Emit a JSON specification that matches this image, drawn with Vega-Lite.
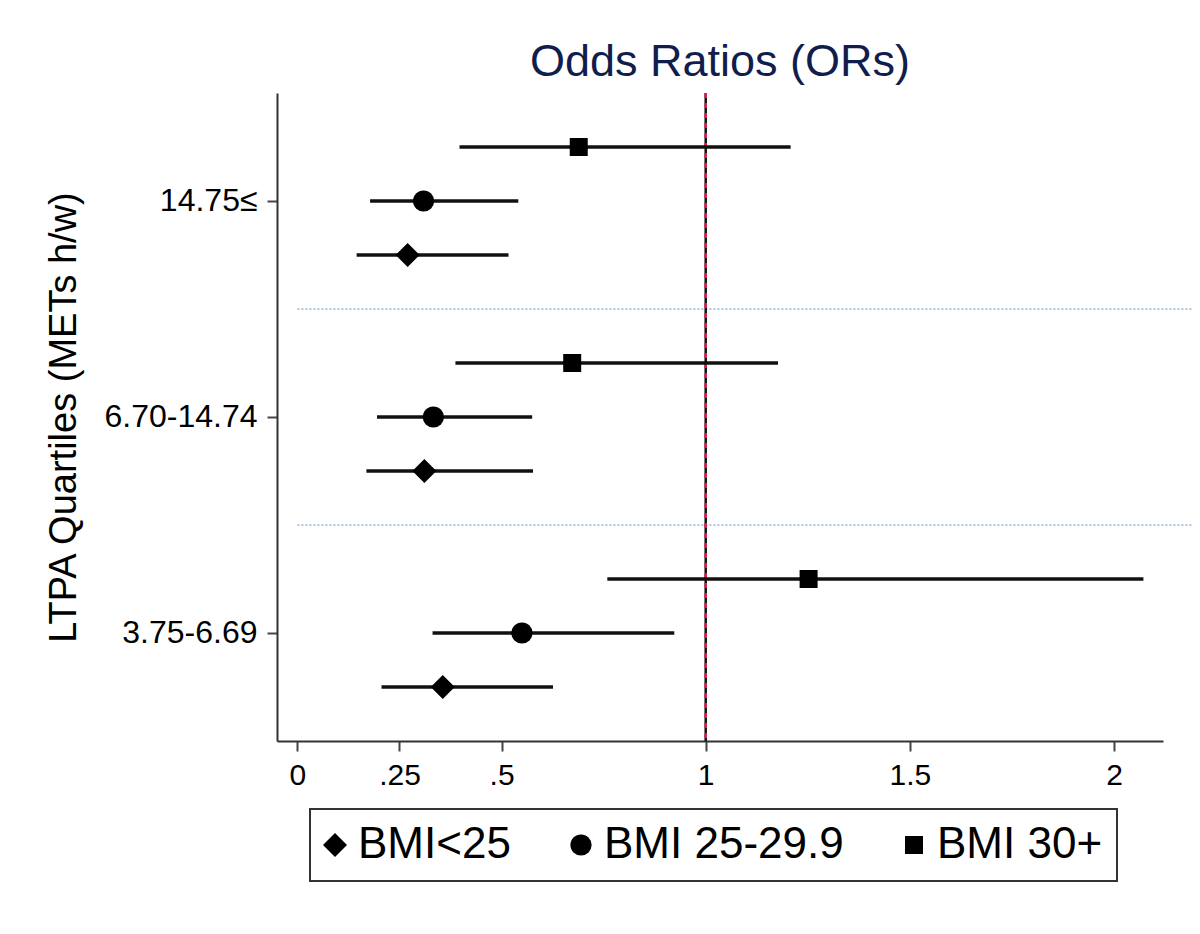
{
  "$schema": "https://vega.github.io/schema/vega-lite/v6.json",
  "autosize": {"type": "none"},
  "padding": {"left": 277, "top": 93, "right": 37, "bottom": 193},
  "width": 886,
  "height": 648,
  "background": "white",
  "title": {
    "text": "Odds Ratios (ORs)",
    "font": "Liberation Sans",
    "fontSize": 45,
    "fontWeight": "normal",
    "color": "#111d4d",
    "anchor": "middle",
    "baseline": "alphabetic",
    "offset": 13,
    "dy": 42
  },
  "datasets": {
    "est": [
      {"quartile": "14.75≤", "bmi": "BMI 30+", "or": 0.689, "lo": 0.397, "hi": 1.208},
      {"quartile": "14.75≤", "bmi": "BMI 25-29.9", "or": 0.309, "lo": 0.178, "hi": 0.541},
      {"quartile": "14.75≤", "bmi": "BMI<25", "or": 0.27, "lo": 0.145, "hi": 0.517},
      {"quartile": "6.70-14.74", "bmi": "BMI 30+", "or": 0.673, "lo": 0.387, "hi": 1.177},
      {"quartile": "6.70-14.74", "bmi": "BMI 25-29.9", "or": 0.333, "lo": 0.195, "hi": 0.575},
      {"quartile": "6.70-14.74", "bmi": "BMI<25", "or": 0.311, "lo": 0.169, "hi": 0.577},
      {"quartile": "3.75-6.69", "bmi": "BMI 30+", "or": 1.252, "lo": 0.759, "hi": 2.072},
      {"quartile": "3.75-6.69", "bmi": "BMI 25-29.9", "or": 0.55, "lo": 0.331, "hi": 0.923},
      {"quartile": "3.75-6.69", "bmi": "BMI<25", "or": 0.356, "lo": 0.206, "hi": 0.626}
    ],
    "sep": [
      {"quartile": "6.70-14.74", "from": 0, "to": 2.19},
      {"quartile": "3.75-6.69", "from": 0, "to": 2.19}
    ],
    "ref": [{"or": 1}]
  },
  "encoding": {
    "y": {
      "field": "quartile",
      "type": "nominal",
      "scale": {"domain": ["14.75≤", "6.70-14.74", "3.75-6.69"], "paddingInner": 0, "paddingOuter": 0},
      "axis": {
        "title": "LTPA Quartiles (METs h/w)",
        "titleFontSize": 38,
        "titleFont": "Liberation Sans",
        "titleFontWeight": "normal",
        "titleColor": "black",
        "titlePadding": 20,
        "labelFontSize": 32,
        "labelFont": "Liberation Sans",
        "labelColor": "black",
        "labelPadding": 10,
        "tickSize": 10,
        "tickWidth": 2,
        "tickColor": "#444",
        "domainColor": "#333",
        "domainWidth": 2,
        "grid": false
      }
    }
  },
  "layer": [
    {
      "data": {"name": "sep"},
      "mark": {"type": "rule", "color": "#aec4de", "strokeWidth": 2, "strokeDash": [2, 2]},
      "encoding": {
        "y": {"field": "quartile", "type": "nominal", "bandPosition": 0},
        "x": {"field": "from", "type": "quantitative"},
        "x2": {"field": "to"}
      }
    },
    {
      "data": {"name": "ref"},
      "mark": {"type": "rule", "color": "#111", "strokeWidth": 2.5},
      "encoding": {"x": {"field": "or", "type": "quantitative"}, "y": null}
    },
    {
      "data": {"name": "ref"},
      "mark": {"type": "rule", "color": "#e8174b", "strokeWidth": 2.5, "strokeDash": [5, 5]},
      "encoding": {"x": {"field": "or", "type": "quantitative"}, "y": null}
    },
    {
      "data": {"name": "est"},
      "mark": {"type": "rule", "color": "#111", "strokeWidth": 3.5},
      "encoding": {
        "x": {
          "field": "lo",
          "type": "quantitative",
          "scale": {"domain": [-0.05, 2.12], "nice": false, "zero": false},
          "axis": {
            "values": [0, 0.25, 0.5, 1, 1.5, 2],
            "labelExpr": "datum.value == 0.25 ? '.25' : datum.value == 0.5 ? '.5' : datum.value == 1.5 ? '1.5' : datum.value == 1 ? '1' : datum.value == 2 ? '2' : '0'",
            "title": null,
            "grid": false,
            "labelFontSize": 30,
            "labelFont": "Liberation Sans",
            "labelColor": "black",
            "labelPadding": 9,
            "tickSize": 10,
            "tickWidth": 2,
            "tickColor": "#444",
            "domainColor": "#333",
            "domainWidth": 2
          }
        },
        "x2": {"field": "hi"},
        "yOffset": {"field": "bmi", "type": "nominal", "scale": {"domain": ["BMI 30+", "BMI 25-29.9", "BMI<25"], "paddingInner": 0, "paddingOuter": 0.5}}
      }
    },
    {
      "data": {"name": "est"},
      "mark": {"type": "point", "filled": true, "color": "black", "opacity": 1, "strokeWidth": 0},
      "encoding": {
        "x": {"field": "or", "type": "quantitative"},
        "yOffset": {"field": "bmi", "type": "nominal"},
        "shape": {
          "field": "bmi",
          "type": "nominal",
          "scale": {"domain": ["BMI<25", "BMI 25-29.9", "BMI 30+"], "range": ["diamond", "circle", "square"]},
          "legend": {"title": null}
        },
        "size": {
          "field": "bmi",
          "type": "nominal",
          "scale": {"domain": ["BMI<25", "BMI 25-29.9", "BMI 30+"], "range": [576, 324, 306]},
          "legend": {"title": null}
        }
      }
    }
  ],
  "config": {
    "view": {"stroke": null},
    "legend": {
      "orient": "none",
      "legendX": 33,
      "legendY": 716,
      "direction": "horizontal",
      "columns": 3,
      "strokeColor": "#333",
      "strokeWidth": 2,
      "padding": 14,
      "labelFontSize": 44,
      "labelFont": "Liberation Sans",
      "labelColor": "black",
      "labelLimit": 500,
      "symbolOffset": -11,
      "labelOffset": 1,
      "columnPadding": 59,
      "symbolFillColor": "black",
      "symbolStrokeWidth": 0
    }
  }
}
